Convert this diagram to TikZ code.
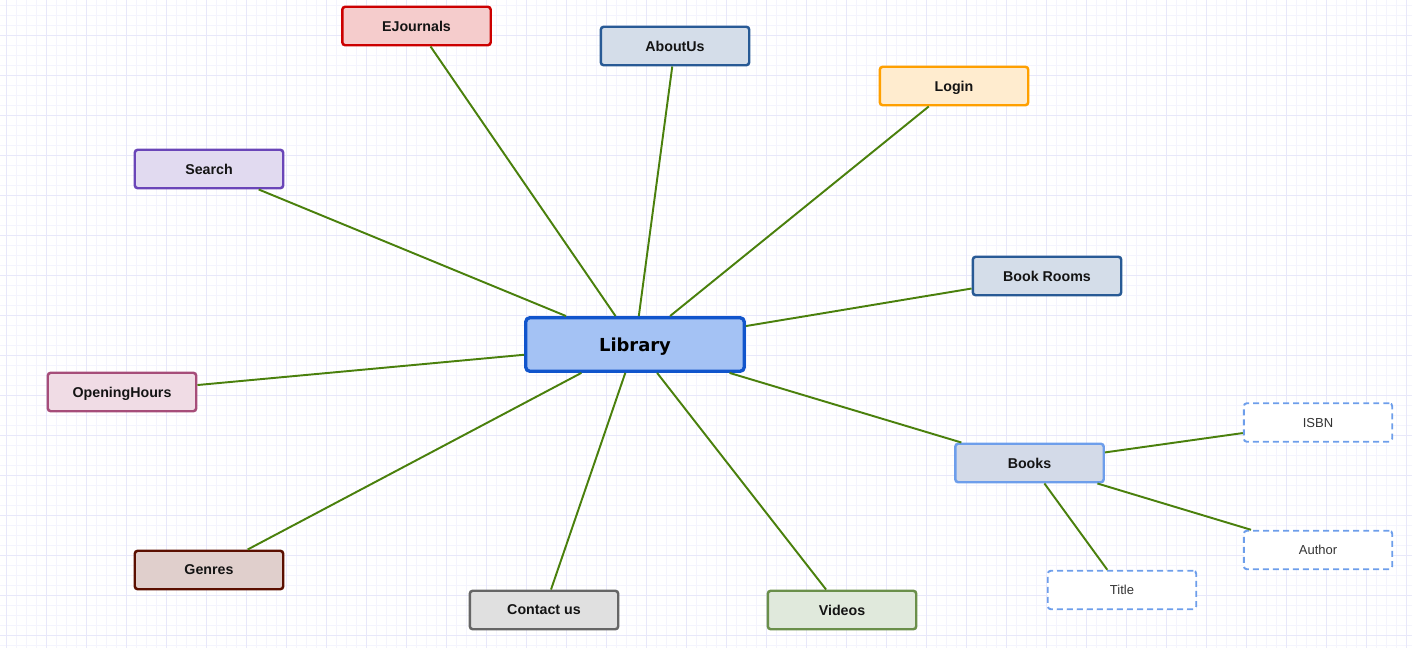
\documentclass[tikz,border=0pt]{standalone}
\usepackage{fontspec}
\setmainfont{Liberation Sans}
\newfontfamily\dejavu{DejaVu Sans}
\definecolor{gridminor}{HTML}{F4F4FD}
\definecolor{gridmajor}{HTML}{E8E8FA}
\definecolor{edgegreen}{HTML}{4A800C}
\definecolor{libfill}{HTML}{A4C2F4}
\definecolor{libline}{HTML}{1155CC}
\definecolor{ejfill}{HTML}{F5CCCC}
\definecolor{ejline}{HTML}{CC0000}
\definecolor{navyfill}{HTML}{D4DDE9}
\definecolor{navyline}{HTML}{285A95}
\definecolor{loginfill}{HTML}{FFECCF}
\definecolor{loginline}{HTML}{FFA000}
\definecolor{searchfill}{HTML}{E1DAF0}
\definecolor{searchline}{HTML}{6A45B8}
\definecolor{openfill}{HTML}{F0DCE5}
\definecolor{openline}{HTML}{A64D79}
\definecolor{booksfill}{HTML}{D3DAE8}
\definecolor{booksline}{HTML}{6D9EEB}
\definecolor{genrefill}{HTML}{E0CFCC}
\definecolor{genreline}{HTML}{5B0F00}
\definecolor{contactfill}{HTML}{E0E0E0}
\definecolor{contactline}{HTML}{666666}
\definecolor{videofill}{HTML}{E0E9DC}
\definecolor{videoline}{HTML}{6A8F4A}
\begin{document}
\begin{tikzpicture}[x=0.02cm,y=-0.02cm,
    topic/.style={draw,rounded corners=0.06cm,line width=1.4pt,
        minimum width=2.97cm,minimum height=0.77cm,inner sep=0pt,text depth=0pt,
        font=\fontsize{8.1}{9}\selectfont\bfseries,text=black!92},
    leaf/.style={draw=booksline,fill=white,dashed,dash pattern=on 3.4pt off 2.3pt,
        rounded corners=0.06cm,line width=1.1pt,
        minimum width=2.97cm,minimum height=0.77cm,inner sep=0pt,text depth=0pt,
        font=\fontsize{7.4}{9}\selectfont,text=black!80},
    hub/.style={draw=libline,fill=libfill,rounded corners=0.08cm,line width=1.9pt,
        minimum width=4.37cm,minimum height=1.07cm,inner sep=0pt,text depth=0pt,
        font=\dejavu\fontsize{10.2}{12}\selectfont\bfseries},
    link/.style={edgegreen,line width=1.1pt},
    minorgrid/.style={gridminor,line width=0.45pt},
    majorgrid/.style={gridmajor,line width=0.45pt}]
    \useasboundingbox (0,0) rectangle (1412,648);
    %% Background grid
    \foreach \gx in {6.5,16.5,...,1412} \draw[minorgrid] (\gx,0) -- (\gx,648);
    \foreach \gy in {5,15,...,648} \draw[minorgrid] (0,\gy) -- (1412,\gy);
    \foreach \gx in {6.5,46.5,...,1412} \draw[majorgrid] (\gx,0) -- (\gx,648);
    \foreach \gy in {35,75,...,648} \draw[majorgrid] (0,\gy) -- (1412,\gy);
    %% Central node
    \node[hub] (library) at (635,344.5) {Library};
    %% Topics
    \node[topic,draw=ejline,fill=ejfill] (ejournals) at (416.5,26) {EJournals};
    \node[topic,draw=navyline,fill=navyfill] (aboutus) at (675,46) {AboutUs};
    \node[topic,draw=loginline,fill=loginfill] (login) at (954,86) {Login};
    \node[topic,draw=searchline,fill=searchfill] (search) at (209,169) {Search};
    \node[topic,draw=navyline,fill=navyfill] (bookrooms) at (1047,276) {Book Rooms};
    \node[topic,draw=openline,fill=openfill] (openinghours) at (122,392) {OpeningHours};
    \node[topic,draw=booksline,fill=booksfill] (books) at (1029.5,463) {Books};
    \node[topic,draw=genreline,fill=genrefill] (genres) at (209,570) {Genres};
    \node[topic,draw=contactline,fill=contactfill] (contact) at (544,610) {Contact us};
    \node[topic,draw=videoline,fill=videofill] (videos) at (842,610) {Videos};
    %% Book details
    \node[leaf] (isbn) at (1318,422.5) {ISBN};
    \node[leaf] (author) at (1318,550) {Author};
    \node[leaf] (title) at (1122,590) {Title};
    %% Links
    \draw[link] (library) -- (ejournals);
    \draw[link] (library) -- (aboutus);
    \draw[link] (library) -- (login);
    \draw[link] (library) -- (search);
    \draw[link] (library) -- (bookrooms);
    \draw[link] (library) -- (openinghours);
    \draw[link] (library) -- (books);
    \draw[link] (library) -- (genres);
    \draw[link] (library) -- (contact);
    \draw[link] (library) -- (videos);
    \draw[link] (books) -- (isbn);
    \draw[link] (books) -- (author);
    \draw[link] (books) -- (title);
\end{tikzpicture}
\end{document}
